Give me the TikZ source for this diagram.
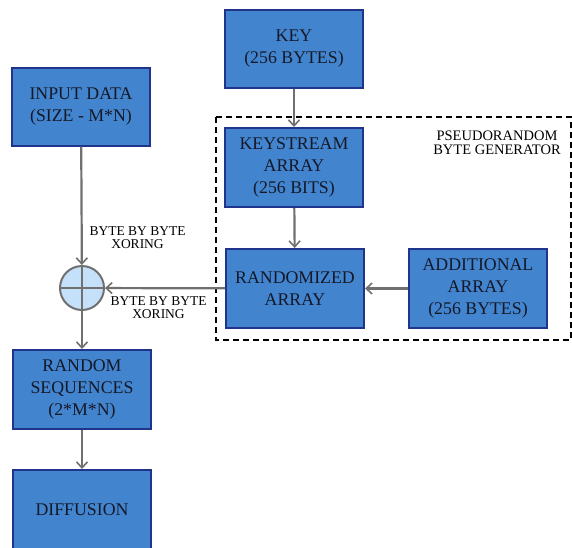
\documentclass[tikz,border=0pt]{standalone}
\usepackage{fontspec}
\setmainfont{Liberation Serif}
\usetikzlibrary{arrows.meta}
\definecolor{boxblue}{RGB}{66,133,206}
\definecolor{boxedge}{RGB}{32,52,140}
\definecolor{linegray}{RGB}{112,112,112}
\definecolor{xorfill}{RGB}{197,225,250}
\definecolor{boxtext}{RGB}{20,24,40}

\begin{document}
\begin{tikzpicture}[x=1pt,y=-1pt,
  blockbox/.style={draw=boxedge, line width=2pt, fill=boxblue, text=boxtext,
    minimum width=138pt, minimum height=78pt, inner sep=0pt, align=center,
    font=\fontsize{17.8}{22}\selectfont},
  flow/.style={draw=linegray, line width=2.2pt, -{Straight Barb[length=6pt,width=11pt,line width=1.6pt]}},
  smalllabel/.style={align=center, font=\fontsize{13.5}{13}\selectfont, inner sep=0pt}]
\useasboundingbox (0,0) rectangle (572,547);
\clip (0,0) rectangle (572,547);

% Generator frame
\draw[black, line width=2.4pt, dash pattern=on 6pt off 4pt] (216,117) rectangle (571,340);
\node[smalllabel, font=\fontsize{14.5}{13.5}\selectfont] (genlabel) at (497,143) {PSEUDORANDOM\\BYTE GENERATOR};

% Blocks
\node[blockbox] (key) at (294,49) {KEY\\(256 BYTES)};
\node[blockbox] (input) at (81,106.5) {INPUT DATA\\(SIZE - M*N)};
\node[blockbox, minimum height=79pt] (keystream) at (294,167.5) {KEYSTREAM\\ARRAY\\(256 BITS)};
\node[blockbox, minimum height=79pt] (randomized) at (295,288.5) {RANDOMIZED\\ARRAY};
\node[blockbox, minimum height=79pt] (additional) at (478,288.5) {ADDITIONAL\\ARRAY\\(256 BYTES)};
\node[blockbox, minimum height=79pt] (randseq) at (82,389.5) {RANDOM\\SEQUENCES\\(2*M*N)};
\node[blockbox, minimum height=80pt] (diffusion) at (82,510) {DIFFUSION};

% XOR
\node[circle, draw=linegray, line width=2pt, fill=xorfill, minimum size=44pt, inner sep=0pt] (xor) at (82,288) {};
\draw[linegray, line width=2pt] (xor.north) -- (xor.south) (xor.west) -- (xor.east);

% Connectors
\draw[flow] (key) -- (keystream);
\draw[flow] (keystream) -- (randomized);
\draw[flow] (additional) -- (randomized);
\draw[flow] (input) -- (xor);
\draw[flow] (randomized) -- (xor);
\draw[flow] (xor) -- (randseq);
\draw[flow] (randseq) -- (diffusion);

% Labels
\node[smalllabel] (xorlabelA) at (137.5,238) {BYTE BY BYTE\\XORING};
\node[smalllabel] (xorlabelB) at (158.5,307.5) {BYTE BY BYTE\\XORING};
\end{tikzpicture}
\end{document}
